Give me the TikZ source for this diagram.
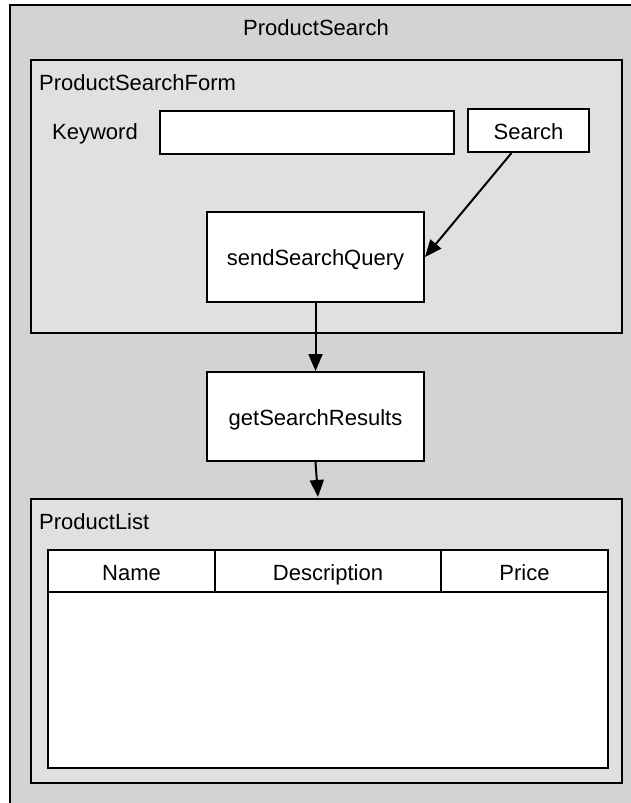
\documentclass[tikz,border=0pt]{standalone}
\usepackage{fontspec}
\setmainfont{Liberation Sans}
\usetikzlibrary{arrows.meta}
\definecolor{outerbg}{HTML}{D3D3D3}
\definecolor{innerbg}{HTML}{E0E0E0}
\begin{document}
\begin{tikzpicture}[x=1pt,y=-1pt,
  every node/.style={font=\fontsize{22}{26}\selectfont, inner sep=0pt, text height=18pt, text depth=1pt},
  frame/.style={draw=black, line width=2pt},
  wbox/.style={draw=black, line width=2pt, fill=white},
  conn/.style={line width=2pt, -{Triangle[length=17pt,width=14pt]}}]
\useasboundingbox (0,0) rectangle (631,803);
\clip (0,0) rectangle (631,803);
% outer container
\path[frame, fill=outerbg] (10,5) rectangle (650,830);
\node (title) at (316,27) {ProductSearch};
% search form
\path[frame, fill=innerbg] (31,60) rectangle (622,333);
\node[anchor=west] (formlbl) at (39,82) {ProductSearchForm};
\node[anchor=west] (kw) at (52,131) {Keyword};
\node[wbox, minimum width=294pt, minimum height=43pt] (field) at (307,132.5) {};
\node[wbox, minimum width=121pt, minimum height=43pt] (search) at (528.5,130.5) {Search};
\node[wbox, minimum width=217pt, minimum height=90pt] (send) at (315.5,257) {sendSearchQuery};
% results
\node[wbox, minimum width=217pt, minimum height=89pt] (get) at (315.5,416.5) {getSearchResults};
% product list
\path[frame, fill=innerbg] (31,499) rectangle (622,783);
\node[anchor=west] (listlbl) at (39,521) {ProductList};
\path[wbox] (48,550) rectangle (608,768);
\draw[line width=2pt] (48,592) -- (608,592);
\draw[line width=2pt] (215,550) -- (215,592);
\draw[line width=2pt] (441,550) -- (441,592);
\node (cname) at (131.5,572) {Name};
\node (cdesc) at (328,572) {Description};
\node (cprice) at (524.5,572) {Price};
\coordinate (listtop) at (318,497);
% connectors
\draw[conn] (search.south) ++(-17,0) coordinate (sfrom) (sfrom) -- (send.east);
\draw[conn] (send.south) -- (get.north);
\draw[conn] (get.south) -- (listtop);
\end{tikzpicture}
\end{document}
